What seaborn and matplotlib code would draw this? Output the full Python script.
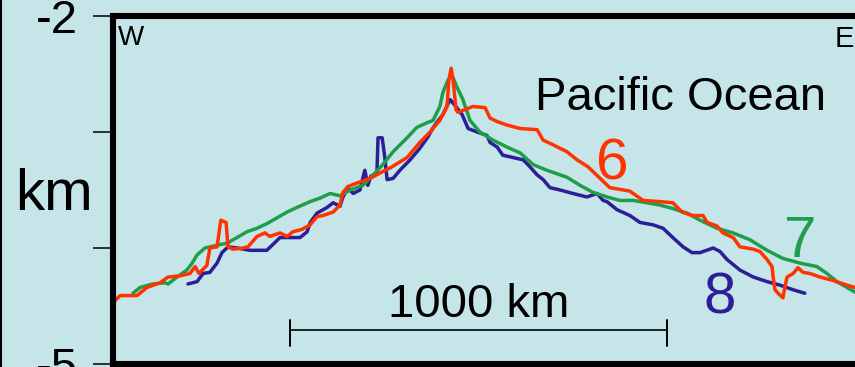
import matplotlib
matplotlib.use("Agg")
import matplotlib.pyplot as plt
from matplotlib.lines import Line2D
import pandas as pd
import seaborn as sns

# Seafloor depth profiles across the East Pacific Rise (distance in km, depth in km)
dist_6 = [0, 19, 64, 90, 125, 146, 178, 204, 218, 228, 249, 257, 276, 286, 300, 305,
          318, 345, 358, 382, 403, 416, 443, 462, 477, 501, 523, 541, 557, 584, 602,
          610, 623, 647, 682, 716, 735, 780, 814, 841, 867, 886, 891, 897, 902, 910,
          915, 939, 955, 987, 1000, 1019, 1045, 1080, 1125, 1141, 1167, 1204, 1231,
          1260, 1292, 1318, 1337, 1371, 1406, 1451, 1485, 1509, 1538, 1565, 1576,
          1602, 1618, 1645, 1663, 1698, 1716, 1735, 1748, 1751, 1756, 1764, 1777,
          1782, 1788, 1804, 1817, 1830, 1849, 1875, 1910, 1947, 1968, 2010]
depth_6 = [-4.47, -4.41, -4.41, -4.34, -4.30, -4.25, -4.24, -4.22, -4.16, -4.22, -4.15,
           -4.00, -3.99, -3.76, -3.78, -3.99, -4.01, -4.00, -3.99, -3.90, -3.87, -3.90,
           -3.87, -3.90, -3.86, -3.84, -3.80, -3.73, -3.72, -3.69, -3.63, -3.52, -3.47,
           -3.44, -3.40, -3.34, -3.31, -3.22, -3.09, -3.00, -2.90, -2.78, -2.55, -2.45,
           -2.55, -2.81, -2.83, -2.80, -2.78, -2.79, -2.88, -2.91, -2.94, -2.97, -2.98,
           -3.07, -3.11, -3.17, -3.24, -3.30, -3.40, -3.48, -3.49, -3.51, -3.59, -3.60,
           -3.61, -3.69, -3.72, -3.72, -3.78, -3.81, -3.87, -3.91, -3.99, -4.01, -4.03,
           -4.10, -4.16, -4.25, -4.36, -4.39, -4.43, -4.34, -4.25, -4.22, -4.17, -4.21,
           -4.22, -4.25, -4.28, -4.32, -4.34, -4.39]

dist_7 = [53, 72, 106, 138, 146, 170, 196, 210, 223, 244, 257, 284, 302, 329, 355, 382,
          408, 435, 462, 488, 523, 549, 576, 602, 629, 663, 690, 716, 743, 780, 806,
          833, 849, 867, 875, 889, 899, 912, 928, 947, 973, 1008, 1045, 1080, 1114,
          1151, 1204, 1239, 1273, 1310, 1345, 1379, 1416, 1451, 1485, 1523, 1557,
          1602, 1645, 1690, 1735, 1777, 1822, 1867, 1894, 1920, 1947, 1968, 2008]
depth_7 = [-4.39, -4.34, -4.31, -4.30, -4.31, -4.25, -4.19, -4.13, -4.06, -4.00, -3.99,
           -3.97, -3.96, -3.91, -3.86, -3.83, -3.79, -3.74, -3.69, -3.65, -3.60, -3.57,
           -3.53, -3.55, -3.50, -3.46, -3.37, -3.28, -3.17, -3.05, -2.96, -2.92, -2.90,
           -2.78, -2.66, -2.55, -2.51, -2.61, -2.72, -2.90, -3.00, -3.07, -3.13, -3.18,
           -3.28, -3.33, -3.39, -3.46, -3.52, -3.56, -3.59, -3.59, -3.61, -3.63, -3.66,
           -3.70, -3.76, -3.83, -3.87, -3.93, -4.02, -4.09, -4.13, -4.16, -4.22, -4.29,
           -4.34, -4.38, -4.44]

dist_8 = [199, 223, 239, 257, 276, 289, 305, 329, 363, 408, 424, 443, 469, 496, 515, 523,
          541, 568, 584, 602, 610, 623, 637, 655, 668, 676, 684, 700, 703, 714, 721,
          727, 743, 761, 788, 814, 836, 846, 854, 875, 894, 907, 926, 942, 966, 992,
          1000, 1019, 1034, 1061, 1088, 1106, 1125, 1141, 1159, 1186, 1220, 1257, 1284,
          1300, 1310, 1337, 1371, 1398, 1432, 1459, 1485, 1512, 1536, 1557, 1592, 1610,
          1629, 1663, 1698, 1735, 1769, 1804, 1835]
depth_8 = [-4.31, -4.29, -4.22, -4.21, -4.13, -4.04, -3.99, -4.00, -4.02, -4.02, -3.97,
           -3.91, -3.91, -3.91, -3.86, -3.78, -3.70, -3.65, -3.61, -3.64, -3.56, -3.48,
           -3.53, -3.50, -3.33, -3.46, -3.38, -3.36, -3.05, -3.05, -3.22, -3.41, -3.40,
           -3.33, -3.24, -3.14, -3.04, -2.98, -2.94, -2.85, -2.72, -2.77, -2.85, -2.97,
           -3.00, -3.03, -3.09, -3.13, -3.20, -3.22, -3.24, -3.30, -3.37, -3.41, -3.48,
           -3.50, -3.53, -3.56, -3.53, -3.59, -3.60, -3.67, -3.72, -3.78, -3.80, -3.83,
           -3.91, -3.99, -4.04, -4.04, -4.00, -4.03, -4.10, -4.19, -4.25, -4.29, -4.32,
           -4.36, -4.39]

profile_names = ["8", "7", "6"]
y_ticks = [-2, -3, -4, -5]
y_tick_labels = ["-2", "", "", "-5"]
scale_start_km = 470
scale_length_km = 1000

bg = "#C6E5E9"
palette = {"6": "#FF3300", "7": "#1E9E4A", "8": "#2B1E96"}

sns.set_style("white")
plt.rcParams["font.family"] = ["Liberation Sans", "DejaVu Sans"]
plt.rcParams["axes.unicode_minus"] = False
plt.rcParams["text.color"] = "black"
plt.rcParams["ytick.color"] = "black"
plt.rcParams["ytick.labelcolor"] = "black"

frames = []
for name, d, z in (("6", dist_6, depth_6), ("7", dist_7, depth_7), ("8", dist_8, depth_8)):
    frames.append(pd.DataFrame({"distance": d, "depth": z, "profile": name}))
df = pd.concat(frames, ignore_index=True)

fig = plt.figure(figsize=(8.55, 3.67), dpi=100, facecolor=bg)
ax = fig.add_axes([113 / 855, 3 / 367, 754 / 855, 348 / 367], facecolor=bg)

sns.lineplot(data=df, x="distance", y="depth", hue="profile", hue_order=profile_names,
             palette=palette, sort=False, estimator=None, linewidth=2.5,
             legend=False, ax=ax)

ax.set_xlim(0, 2000)
ax.set_ylim(-5, -2)
ax.set_xticks([])
ax.set_yticks(y_ticks)
ax.set_yticklabels(y_tick_labels)
ax.set_xlabel("")
ax.set_ylabel("")
ax.tick_params(axis="y", direction="out", length=14.4, width=1.1, pad=11,
               labelsize=34, color="black", labelcolor="black", left=True)
for side in ("left", "top", "bottom"):
    ax.spines[side].set_visible(True)
    ax.spines[side].set_linewidth(4.4)
    ax.spines[side].set_color("black")
ax.spines["right"].set_visible(False)

# scale bar
bar_y = -4.707
ax.plot([scale_start_km, scale_start_km + scale_length_km], [bar_y, bar_y],
        color="black", lw=1.2)
for xe in (scale_start_km, scale_start_km + scale_length_km):
    ax.plot([xe, xe], [-4.62, -4.845], color="black", lw=1.4)
ax.text(scale_start_km + scale_length_km / 2, -4.595, "1000 km", ha="center",
        va="baseline", fontsize=34, color="black")

# labels inside the panel
def px(x, y):
    return x / 855, 1 - y / 367

fig.text(*px(118, 45), "W", fontsize=20, ha="left", va="baseline", color="black")
fig.text(*px(835, 47), "E", fontsize=21, ha="left", va="baseline", color="black")
fig.text(*px(535, 110), "Pacific Ocean", fontsize=34, ha="left", va="baseline",
         color="black")
fig.text(*px(596, 180), "6", fontsize=42, color=palette["6"], ha="left", va="baseline")
fig.text(*px(784, 257), "7", fontsize=42, color=palette["7"], ha="left", va="baseline")
fig.text(*px(703, 313), "8", fontsize=42, color=palette["8"], ha="left", va="baseline")
fig.text(*px(54, 210), "km", fontsize=42, ha="center", va="baseline", color="black")

# edge of neighbouring panel
fig.add_artist(Line2D([1 / 855, 1 / 855], [0, 1], color="black", lw=1.5,
                      transform=fig.transFigure))

fig.savefig("out.png", dpi=100, facecolor=bg)
